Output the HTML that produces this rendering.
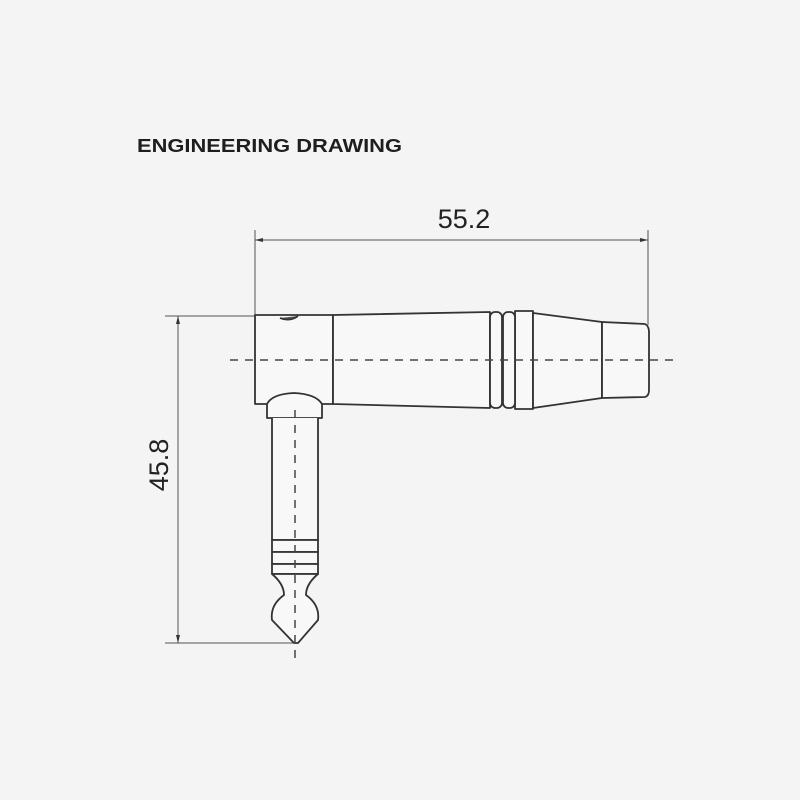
<!DOCTYPE html>
<html><head><meta charset="utf-8"><style>
html,body{margin:0;padding:0;background:#f4f4f4;}
svg{display:block;}
</style></head><body>
<svg width="800" height="800" viewBox="0 0 800 800" xmlns="http://www.w3.org/2000/svg">
<rect width="800" height="800" fill="#f4f4f4"/>
<text x="137" y="152" font-family="Liberation Sans, sans-serif" font-size="18" font-weight="bold" fill="#1e1e1e" textLength="265" lengthAdjust="spacingAndGlyphs">ENGINEERING DRAWING</text>
<g stroke="#555" stroke-width="1" fill="none">
  <line x1="255" y1="230" x2="255" y2="315"/>
  <line x1="648" y1="230" x2="648" y2="325"/>
  <line x1="255" y1="240" x2="648" y2="240"/>
  <line x1="165" y1="316" x2="255" y2="316"/>
  <line x1="165" y1="643" x2="297" y2="643"/>
  <line x1="178" y1="316" x2="178" y2="643"/>
</g>
<g fill="#333">
  <polygon points="255,240 263,238 263,242"/>
  <polygon points="648,240 640,238 640,242"/>
  <polygon points="178,316 176,324 180,324"/>
  <polygon points="178,643 176,635 180,635"/>
</g>
<text x="464" y="228" text-anchor="middle" font-family="Liberation Sans, sans-serif" font-size="27" fill="#222">55.2</text>
<text transform="translate(168,465) rotate(-90)" text-anchor="middle" font-family="Liberation Sans, sans-serif" font-size="27" fill="#222">45.8</text>
<g stroke="#333" stroke-width="1.8" fill="#f8f8f8" stroke-linejoin="round">
  <path d="M255,315 L333,315 L333,404 L255,404 Z"/>
  <path d="M333,315 L490,312 L490,408 L333,404 Z"/>
  <path d="M515,311 L533,311 L533,409 L515,409 Z"/>
  <path d="M533,313 L602,322 L602,398 L533,408 Z"/>
  <path d="M602,322 L645,324 Q649,326 649,332 L649,390 Q649,396 645,397 L602,398 Z"/>
  <rect x="490" y="312" width="12" height="96" rx="5"/>
  <rect x="503" y="312" width="12" height="96" rx="5"/>
  <path d="M280,318 Q290,322 298,316" fill="#555"/>
  <path d="M267,418 L267,404 Q272,394 294,393 Q316,394 322,404 L322,418 Z"/>
  <path d="M272,418 L272,540 L318,540 L318,418"/>
  <rect x="272" y="540" width="46" height="12"/>
  <rect x="272" y="552" width="46" height="12"/>
  <rect x="272" y="564" width="46" height="10"/>
  <path d="M272,574 L318,574 Q306,584 306,595 Q320,605 318,620 L298,643 L294,643 L272,620 Q270,605 284,595 Q284,584 272,574 Z"/>
</g>
<g stroke="#444" stroke-width="1.5" stroke-dasharray="8,7" fill="none">
  <line x1="230" y1="360" x2="680" y2="360"/>
  <line x1="295" y1="410" x2="295" y2="660"/>
</g>
</svg>
</body></html>
